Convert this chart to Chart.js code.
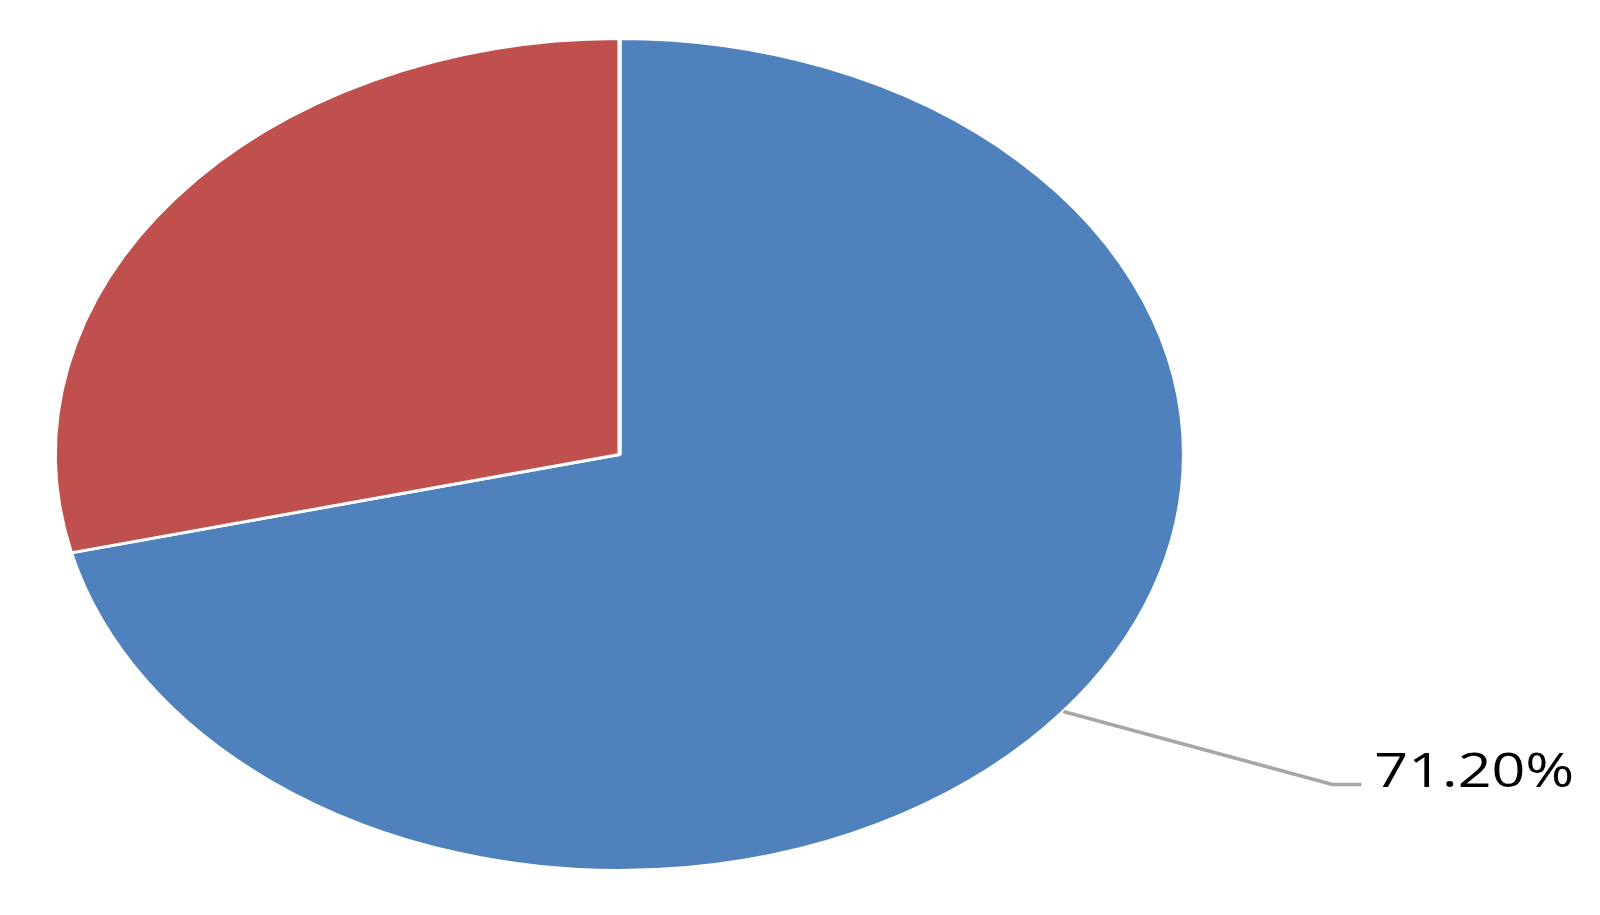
<!DOCTYPE html>
<html>
<head>
<meta charset="utf-8">
<script src="https://cdn.jsdelivr.net/npm/chart.js@4.4.1/dist/chart.umd.min.js"></script>
<style>
    html, body { margin: 0; padding: 0; background: #fff; }
    #wrap { width: 1600px; height: 915px; }
</style>
</head>
<body>
<div id="wrap"><canvas id="pieChart" width="1600" height="915"></canvas></div>
<script>
// Share values (percent)
const categories = ['A', 'B'];
const shares = [71.2, 28.8];
const sliceColors = ['#4F81BD', '#C0504D'];
const labelText = ['71.20%', null];

// pie is drawn as a circle then stretched sideways into an ellipse
const stretchX = 1.357;

const ellipsePlugin = {
    id: 'ellipse',
    beforeDatasetsDraw(chart) {
        const arc = chart.getDatasetMeta(0).data[0];
        const ctx = chart.ctx;
        ctx.save();
        ctx.translate(arc.x, arc.y);
        ctx.scale(stretchX, 1);
        ctx.translate(-arc.x, -arc.y);
    },
    afterDatasetsDraw(chart) {
        chart.ctx.restore();
    }
};

// leader line + value label, anchored on the slice midpoint
const leaderPlugin = {
    id: 'leader',
    afterDraw(chart) {
        const ctx = chart.ctx;
        chart.getDatasetMeta(0).data.forEach((arc, i) => {
            if (!labelText[i]) return;
            const p = arc.getProps(['x', 'y', 'startAngle', 'endAngle', 'outerRadius'], true);
            const mid = (p.startAngle + p.endAngle) / 2;
            const sx = p.x + Math.cos(mid) * p.outerRadius * stretchX;
            const sy = p.y + Math.sin(mid) * p.outerRadius;
            const kx = sx + 269, ky = sy + 73;
            ctx.save();
            ctx.strokeStyle = '#A6A6A6';
            ctx.lineWidth = 3.5;
            ctx.beginPath();
            ctx.moveTo(sx, sy);
            ctx.lineTo(kx, ky);
            ctx.lineTo(kx + 29, ky);
            ctx.stroke();
            ctx.translate(kx + 42, ky + 2);
            ctx.scale(1.26, 1);
            ctx.fillStyle = '#000';
            ctx.font = '47px "Open Sans"';
            ctx.textBaseline = 'alphabetic';
            ctx.fillText(labelText[i], 0, 0);
            ctx.restore();
        });
    }
};

function drawChart() {
    const ctx = document.getElementById('pieChart').getContext('2d');
    new Chart(ctx, {
        type: 'pie',
        data: {
            labels: categories,
            datasets: [{
                data: shares,
                backgroundColor: sliceColors,
                borderColor: '#FFFFFF',
                borderWidth: 3
            }]
        },
        options: {
            responsive: false,
            animation: false,
            layout: {
                padding: { left: 0, right: 361, top: 37, bottom: 43 }
            },
            plugins: {
                legend: { display: false },
                tooltip: { enabled: false }
            }
        },
        plugins: [ellipsePlugin, leaderPlugin]
    });
}

document.fonts.load('47px "Open Sans"').then(drawChart, drawChart);
</script>
</body>
</html>
